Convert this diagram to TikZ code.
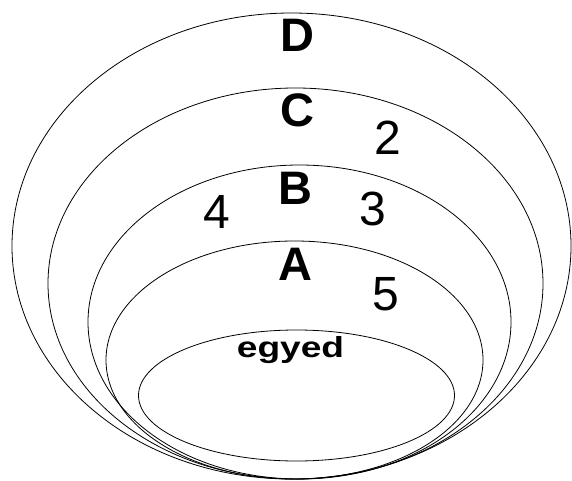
\documentclass[tikz,border=0pt]{standalone}
\usepackage{fontspec}
\setmainfont{Liberation Sans}
\begin{document}
\begin{tikzpicture}[x=1pt,y=-1pt,
  ring/.style={draw=black,line width=0.8pt},
  big/.style={anchor=base,inner sep=0pt,font=\fontsize{47}{50}\selectfont\bfseries},
  num/.style={anchor=base,inner sep=0pt,font=\fontsize{48}{50}\selectfont},
  small/.style={anchor=base,inner sep=0pt,font=\fontsize{29}{32}\selectfont\bfseries}]
\useasboundingbox (0,0) rectangle (572,481);
\draw[ring] (291.5,246) ellipse [x radius=279.5pt, y radius=233pt];
\draw[ring] (295.5,283.5) ellipse [x radius=247.5pt, y radius=195.5pt];
\draw[ring] (299.5,322) ellipse [x radius=211.5pt, y radius=157pt];
\draw[ring] (294.5,360) ellipse [x radius=188.5pt, y radius=119pt];
\draw[ring] (296.5,395.5) ellipse [x radius=158pt, y radius=65.5pt];
\node[big] (d) at (297.5,52) {D};
\node[big] (c) at (297,127) {C};
\node[big] (b) at (295,204) {B};
\node[big] (a) at (295,280) {A};
\node[num] (n2) at (388,154) {2};
\node[num] (n3) at (373,225) {3};
\node[num] (n4) at (216.5,228) {4};
\node[num] (n5) at (386,310) {5};
\node[small] (e) at (290.5,357) {\scalebox{1.28}[1]{egyed}};
\end{tikzpicture}
\end{document}
